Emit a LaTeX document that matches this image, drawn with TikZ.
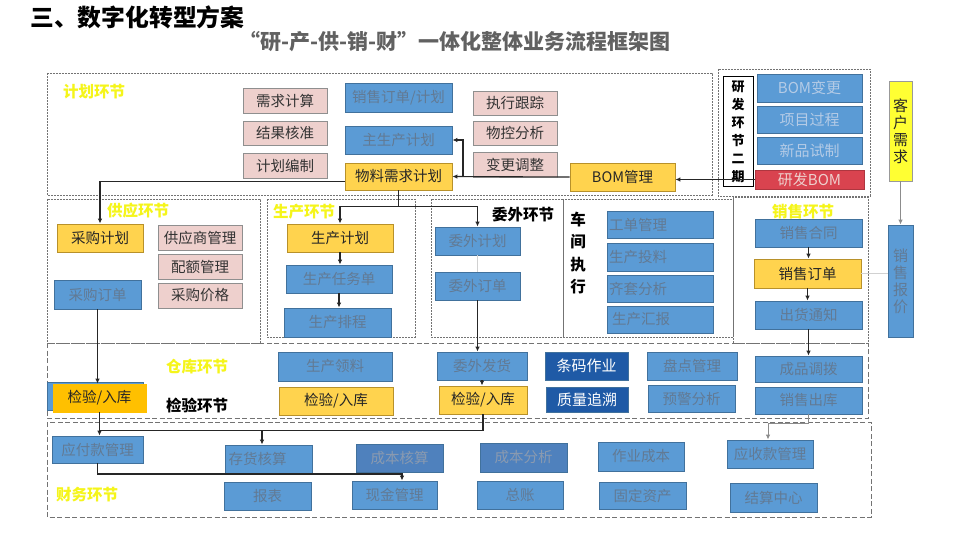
\documentclass[tikz,border=0pt]{standalone}
\usepackage{fontspec}
\setmainfont{Noto Sans CJK SC}
\usetikzlibrary{calc,arrows.meta}
\definecolor{bfill}{HTML}{5B9BD5}
\definecolor{bdraw}{HTML}{41719C}
\definecolor{btext}{HTML}{627A94}
\definecolor{bbfill}{HTML}{4F81BD}
\definecolor{bbtext}{HTML}{8A9AB0}
\definecolor{dfill}{HTML}{1F5AA6}
\definecolor{yfill}{HTML}{FFD34E}
\definecolor{ydraw}{HTML}{B8912A}
\definecolor{ofill}{HTML}{FFC000}
\definecolor{pfill}{HTML}{EED0CD}
\definecolor{pdraw}{HTML}{8F8F8F}
\definecolor{lbl}{HTML}{F5F51A}
\definecolor{rfill}{HTML}{D9434F}
\definecolor{rdtext}{HTML}{B4CBE6}
\definecolor{cyfill}{HTML}{FFFF33}
\newcommand\bx[7]{\node[#2, minimum width={(#5-#3)*1pt}, minimum height={(#6-#4)*1pt}] (#1) at ({(#3+#5)/2},{(#4+#6)/2}) {#7};}
\tikzset{
  box/.style={draw, line width=0.8pt, inner sep=0pt, font=\fontsize{14.5}{16}\selectfont},
  bluebox/.style={box, fill=bfill, draw=bdraw, text=btext},
  bbluebox/.style={box, fill=bbfill, draw=bdraw, text=bbtext},
  rdbox/.style={box, fill=bfill, draw=bdraw, text=rdtext, font=\fontsize{15}{17}\selectfont},
  darkbox/.style={box, fill=dfill, draw=bdraw, text=white, font=\fontsize{15}{17}\selectfont},
  yelbox/.style={box, fill=yfill, draw=ydraw, text=black!85},
  orgbox/.style={box, fill=ofill, draw=ofill, text=black!85},
  pinkbox/.style={box, fill=pfill, draw=pdraw, text=black!80},
  redbox/.style={box, fill=rfill, draw=rfill!80!black, text=pfill, font=\fontsize{15}{17}\selectfont},
  sect/.style={draw=black!55, dash pattern=on 2pt off 1pt, line width=0.6pt},
  sectb/.style={draw=black!55, dash pattern=on 5pt off 2.5pt, line width=0.6pt},
  lbltext/.style={text=lbl, font=\fontsize{15.5}{18}\bfseries},
  blk/.style={text=black, font=\fontsize{15.5}{18}\bfseries},
  arr/.style={-{Latex[length=5pt,width=4.5pt]}, line width=1.1pt, draw=black!85},
  lnk/.style={line width=1.1pt, draw=black!85},
  garr/.style={-{Latex[length=5pt,width=4.5pt]}, line width=1pt, draw=black!45},
  faint/.style={line width=1pt, draw=black!18},
}
\begin{document}
\begin{tikzpicture}[x=1pt,y=-1pt]
\fill[white] (0,0) rectangle (960,540);
\useasboundingbox (0,0) rectangle (960,540);

% titles
\node[anchor=west, inner sep=0pt, font=\fontsize{23.8}{26}\bfseries] (title) at (30,17) {三、数字化转型方案};
\node[anchor=west, inner sep=0pt, text=black!62, font=\fontsize{21}{23}\bfseries] (sub) at (239,42) {“研-产-供-销-财”一体化整体业务流程框架图};

% section frames
\draw[sect] (47,73) rectangle (712,195);
\draw[sect] (718,69) rectangle (870,196);
\draw[sect] (47,199) rectangle (260,343);
\draw[sect] (267,199) rectangle (415,337);
\draw[sect] (431,199) rectangle (563,337);
\draw[sect] (563,199) rectangle (733,337);
\draw[sect] (733,197) rectangle (868,343);
\draw[sectb] (47,343) rectangle (868,418);
\draw[sectb] (47,422) rectangle (871,517);

% section labels
\node[lbltext] (lplan) at (94,92) {计划环节};
\node[lbltext] (lsupply) at (138,211) {供应环节};
\node[lbltext] (lprod) at (304,212) {生产环节};
\node[blk] (lww) at (523,215) {委外环节};
\node[blk, align=center, font=\fontsize{15.5}{22.5}\bfseries] (lcj) at (578,253) {车\\间\\执\\行};
\node[lbltext] (lsales) at (803,212) {销售环节};
\node[lbltext] (lwh) at (197,367) {仓库环节};
\node[blk] (ljy) at (197,405) {检验环节};
\node[lbltext] (lfin) at (87,495) {财务环节};

% planning
\bx{xqjs}{pinkbox}{243}{88}{327}{113}{需求计算}
\bx{jghz}{pinkbox}{243}{121}{327}{145}{结果核准}
\bx{jhbz}{pinkbox}{243}{153}{327}{178}{计划编制}
\bx{xsddjh}{bluebox}{345}{83}{452}{112}{销售订单/计划}
\bx{mps}{bluebox}{345}{126}{452}{154}{主生产计划}
\bx{mrp}{yelbox}{345}{163}{452}{190}{物料需求计划}
\bx{zxgz}{pinkbox}{473}{91}{557}{115}{执行跟踪}
\bx{wkfx}{pinkbox}{473}{121}{557}{145}{物控分析}
\bx{bgtz}{pinkbox}{473}{152}{557}{177}{变更调整}
\bx{bom}{yelbox}{570}{163}{675}{191}{BOM管理}

% R&D
\bx{rdlabel}{box, fill=white, draw=black, line width=1pt, align=center, font=\fontsize{13}{18}\bfseries}{723}{77}{753}{186}{研\\发\\环\\节\\二\\期}
\bx{bombg}{rdbox}{757}{74}{862}{102}{BOM变更}
\bx{xmgc}{rdbox}{757}{106}{862}{133}{项目过程}
\bx{xpsz}{rdbox}{757}{137}{862}{164}{新品试制}
\bx{rdbom}{redbox}{755}{170}{864}{189}{研发BOM}

% customer
\bx{khxq}{box, fill=cyfill, draw=black!40, text=black!85, align=center, font=\fontsize{15}{17}\selectfont}{889}{81}{912}{181}{客\\户\\需\\求}
\bx{xsbj}{bluebox, align=center, font=\fontsize{15}{17}\selectfont}{888}{225}{913}{337}{销\\售\\报\\价}

% supply
\bx{cgjh}{yelbox}{57}{224}{143}{252}{采购计划}
\bx{gysgl}{pinkbox}{158}{225}{242}{250}{供应商管理}
\bx{pegl}{pinkbox}{158}{254}{242}{279}{配额管理}
\bx{cgjg}{pinkbox}{158}{283}{242}{308}{采购价格}
\bx{cgdd}{bluebox}{54}{280}{141}{309}{采购订单}

% production
\bx{scjh}{yelbox}{287}{224}{393}{252}{生产计划}
\bx{scrwd}{bluebox}{286}{265}{392}{293}{生产任务单}
\bx{scpc}{bluebox}{284}{308}{391}{337}{生产排程}

% outsourcing
\bx{wwjh}{bluebox}{435}{227}{520}{255}{委外计划}
\bx{wwdd}{bluebox}{435}{272}{520}{300}{委外订单}

% workshop
\bx{gdgl}{bluebox, text width=102pt, align=left}{607}{211}{713}{238}{工单管理}
\bx{sctl}{bluebox, text width=102pt, align=left}{607}{243}{713}{271}{生产投料}
\bx{qtfx}{bluebox, text width=102pt, align=left}{607}{275}{713}{302}{齐套分析}
\bx{schb}{bluebox, text width=96pt, align=left}{607}{306}{713}{333}{生产汇报}

% sales
\bx{xsht}{bluebox}{755}{219}{862}{247}{销售合同}
\bx{xsdd}{yelbox}{754}{259}{861}{288}{销售订单}
\bx{chtz}{bluebox}{755}{301}{862}{329}{出货通知}

% warehouse / inspection
\bx{jy1bg}{bluebox}{47}{382}{143}{410}{}
\bx{jy1}{orgbox}{53}{384}{146}{412}{检验/入库}
\bx{scll}{bluebox}{278}{352}{392}{381}{生产领料}
\bx{jy2}{yelbox}{279}{387}{393}{415}{检验/入库}
\bx{wwfh}{bluebox}{437}{352}{527}{380}{委外发货}
\bx{jy3}{yelbox}{439}{386}{527}{414}{检验/入库}
\bx{tmzy}{darkbox}{545}{352}{628}{380}{条码作业}
\bx{zlzs}{darkbox}{546}{387}{628}{412}{质量追溯}
\bx{pdgl}{bluebox}{647}{352}{737}{380}{盘点管理}
\bx{yjfx}{bluebox}{648}{385}{735}{412}{预警分析}
\bx{cpdb}{bluebox}{755}{356}{862}{382}{成品调拨}
\bx{xsck}{bluebox}{755}{387}{862}{414}{销售出库}

% finance
\bx{yfk}{bluebox}{52}{436}{143}{463}{应付款管理}
\bx{chhs}{bluebox, text width=80pt, align=left}{225}{445}{312}{473}{存货核算}
\bx{cbhs}{bbluebox}{356}{444}{443}{472}{成本核算}
\bx{bb}{bluebox}{224}{482}{311}{510}{报表}
\bx{xjgl}{bluebox}{352}{481}{437}{509}{现金管理}
\bx{cbfx}{bbluebox}{480}{443}{567}{472}{成本分析}
\bx{zycb}{bluebox}{598}{442}{684}{471}{作业成本}
\bx{ysk}{bluebox}{727}{440}{813}{468}{应收款管理}
\bx{zz}{bluebox}{477}{481}{563}{509}{总账}
\bx{gdzc}{bluebox}{599}{482}{686}{509}{固定资产}
\bx{jszx}{bluebox}{730}{483}{817}{512}{结算中心}

% connectors: planning
\draw[arr] (bom.west) -- (mrp.east);
\coordinate (j1) at (463,177);
\draw[arr] (j1) |- (mps.east);
\draw[arr] (rdbom.west) -- (rdbom.west -| bom.east);
\draw[arr] ($(mrp.west)+(0,5)$) -| (cgjh.north);
\coordinate (j2) at ($(mrp.south)+(0,16)$);
\draw[arr] (mrp.south) -- (j2) -| (scjh.north);
\draw[arr] (j2) -| (wwjh.north);

% production / supply / outsourcing
\draw[arr] (scjh.south) -- (scjh.south |- scrwd.north);
\draw[arr] (scrwd.south) -- (scrwd.south |- scpc.north);
\draw[arr] (cgdd.south) -- (cgdd.south |- jy1.north);
\draw[faint] (wwjh.south) -- (wwjh.south |- wwdd.north);
\draw[arr] (wwdd.south) -- (wwdd.south |- wwfh.north);
\draw[arr] (wwfh.south) -- (wwfh.south |- jy3.north);

% sales
\draw[garr] (khxq.south) -- (khxq.south |- xsbj.north);
\draw[faint] (xsbj.west |- xsdd.east) -- (xsdd.east);
\draw[arr] (xsht.south) -- (xsht.south |- xsdd.north);
\draw[arr] (xsdd.south) -- (xsdd.south |- chtz.north);
\draw[arr] (chtz.south) -- (chtz.south |- cpdb.north);

% finance
\draw[arr] (jy1.south) -- (jy1.south |- yfk.north);
\coordinate (h1) at ($(jy1.south)+(0,18)$);
\draw[lnk] (jy3.south) |- (h1);
\coordinate (h2) at (262,430);
\draw[arr] (h2) -- (h2 |- chhs.north);
\coordinate (h3) at (402,474);
\draw[arr] (yfk.south) |- (h3) -- (h3 |- xjgl.north);
\coordinate (h4) at (768,423);
\draw[garr] (xsck.south) |- (h4) -- (h4 |- ysk.north);
\end{tikzpicture}
\end{document}
